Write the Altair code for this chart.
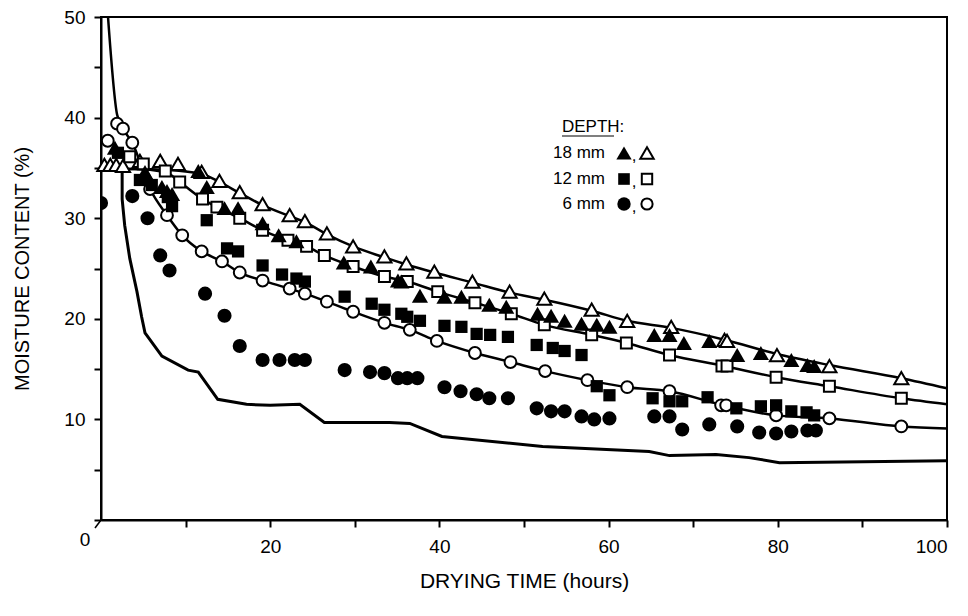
import altair as alt
import pandas as pd

# ---------------- data (hours, moisture %) ----------------
# solid reference curve
base_t = [0, 2.5, 2.5, 2.8, 3.4, 4.25, 4.8, 5.2, 7.2, 10.3, 11.5, 13.8, 17.2, 20.0, 23.5, 26.4, 34.1, 36.5, 40.3, 52.2, 64.8, 67.2, 72.7, 76.6, 80.2, 100]
base_m = [34.8, 34.8, 31.9, 29.3, 26.0, 22.7, 20.2, 18.6, 16.3, 14.9, 14.7, 12.0, 11.5, 11.4, 11.5, 9.7, 9.7, 9.6, 8.3, 7.3, 6.8, 6.4, 6.5, 6.2, 5.7, 5.9]

# fitted curves
fit18_t = [0, 4, 8, 11.9, 14.0, 16.4, 19.1, 22.3, 24.1, 26.7, 29.8, 33.5, 36.1, 39.4, 43.9, 48.3, 52.4, 58.0, 62.2, 67.4, 73.8, 79.9, 86.1, 94.6, 100]
fit18_m = [34.9, 34.9, 34.8, 34.4, 33.6, 32.5, 31.3, 30.2, 29.6, 28.4, 27.2, 26.1, 25.4, 24.6, 23.6, 22.6, 21.9, 20.8, 19.8, 19.1, 17.9, 16.5, 15.4, 14.1, 13.1]
fit12_t = [0, 4, 7.6, 9.3, 12.0, 13.7, 16.4, 19.1, 22.1, 24.3, 26.4, 29.8, 33.5, 36.2, 39.8, 44.2, 48.5, 52.4, 58.0, 62.1, 67.2, 73.7, 79.8, 86.1, 94.6, 100]
fit12_m = [34.9, 34.9, 34.6, 33.6, 31.9, 31.1, 30.0, 28.8, 27.8, 27.2, 26.3, 25.2, 24.2, 23.7, 22.7, 21.6, 20.5, 19.4, 18.4, 17.6, 16.4, 15.3, 14.2, 13.3, 12.1, 11.5]
fit6_t = [0.83, 1.9, 2.6, 3.7, 5.8, 7.8, 9.6, 11.9, 14.3, 16.4, 19.1, 22.3, 24.1, 26.7, 29.8, 33.5, 36.5, 39.7, 44.2, 48.4, 52.5, 57.5, 62.2, 67.2, 73.6, 79.8, 86.1, 94.6, 100]
fit6_m = [50, 40.3, 38.9, 37.5, 32.9, 30.3, 28.3, 26.7, 25.7, 24.6, 23.8, 23.0, 22.5, 21.7, 20.7, 19.6, 18.9, 17.8, 16.6, 15.7, 14.8, 13.9, 13.2, 12.8, 11.4, 10.4, 10.1, 9.3, 9.1]

# open symbols
o18_t = [0.4, 1.1, 1.8, 2.6, 4.6, 7.0, 9.1, 11.9, 14.0, 16.4, 19.1, 22.3, 24.1, 26.7, 29.8, 33.5, 36.1, 39.4, 43.9, 48.3, 52.4, 58.0, 62.2, 67.4, 73.7, 74.0, 79.9, 86.1, 94.6]
o18_m = [35.3, 35.3, 35.3, 35.2, 35.7, 35.7, 35.4, 34.6, 33.7, 32.6, 31.4, 30.3, 29.7, 28.5, 27.2, 26.2, 25.5, 24.7, 23.7, 22.7, 22.0, 20.9, 19.8, 19.2, 17.9, 17.8, 16.4, 15.3, 14.1]
o12_t = [3.4, 5.0, 7.6, 9.3, 12.0, 13.7, 16.4, 19.1, 22.1, 24.3, 26.4, 29.8, 33.5, 36.2, 39.8, 44.2, 48.5, 52.4, 58.0, 62.1, 67.2, 73.4, 74.0, 79.8, 86.1, 94.6]
o12_m = [36.1, 35.4, 34.7, 33.6, 31.9, 31.1, 30.0, 28.8, 27.8, 27.2, 26.3, 25.2, 24.2, 23.7, 22.7, 21.6, 20.5, 19.4, 18.4, 17.6, 16.4, 15.3, 15.3, 14.2, 13.3, 12.1]
o6_t = [0.8, 1.9, 2.6, 3.7, 5.8, 7.8, 9.6, 11.9, 14.3, 16.4, 19.1, 22.3, 24.1, 26.7, 29.8, 33.5, 36.5, 39.7, 44.2, 48.4, 52.5, 57.5, 62.2, 67.2, 73.3, 73.9, 79.8, 86.1, 94.6]
o6_m = [37.7, 39.4, 38.9, 37.5, 32.9, 30.3, 28.3, 26.7, 25.7, 24.6, 23.8, 23.0, 22.5, 21.7, 20.7, 19.6, 18.9, 17.8, 16.6, 15.7, 14.8, 13.9, 13.2, 12.8, 11.4, 11.4, 10.4, 10.1, 9.3]

# filled symbols
f18_t = [1.65, 5.2, 5.5, 7.2, 7.8, 8.4, 11.5, 12.5, 14.6, 16.2, 19.1, 21.0, 23.1, 28.7, 31.9, 35.1, 35.5, 37.7, 40.6, 42.6, 45.9, 47.9, 51.6, 53.2, 54.8, 56.8, 58.6, 60.1, 65.4, 67.2, 68.9, 71.9, 75.2, 78.0, 81.6, 83.5, 84.3]
f18_m = [37.0, 34.6, 34.1, 33.1, 32.7, 32.4, 34.7, 33.1, 31.0, 31.0, 29.5, 28.3, 27.7, 25.6, 25.2, 23.8, 23.7, 22.3, 22.2, 22.2, 21.4, 21.2, 20.5, 20.3, 19.8, 19.5, 19.4, 19.2, 18.4, 18.4, 17.6, 17.8, 16.4, 16.6, 15.9, 15.4, 15.3]
f12_t = [2.0, 4.6, 6.0, 7.9, 8.4, 12.5, 14.9, 16.2, 19.1, 21.4, 23.1, 24.1, 28.8, 32.0, 33.5, 35.5, 36.2, 37.7, 40.6, 42.6, 44.4, 46.0, 48.1, 51.5, 53.4, 54.8, 56.8, 58.6, 60.1, 65.2, 67.2, 68.7, 71.7, 75.1, 78.0, 79.8, 81.6, 83.4, 84.3]
f12_m = [36.5, 33.8, 33.3, 32.1, 31.2, 29.8, 27.0, 26.7, 25.3, 24.4, 24.0, 23.7, 22.2, 21.5, 20.9, 20.5, 20.2, 19.8, 19.3, 19.2, 18.5, 18.4, 18.2, 17.4, 17.1, 16.8, 16.4, 13.3, 12.4, 12.1, 11.8, 11.8, 12.2, 11.1, 11.3, 11.4, 10.8, 10.7, 10.4]
f6_t = [0.0, 3.7, 5.5, 7.0, 8.1, 12.3, 14.6, 16.4, 19.1, 21.1, 22.9, 24.1, 28.8, 31.8, 33.5, 35.1, 36.2, 37.4, 40.6, 42.5, 44.4, 45.9, 48.1, 51.5, 53.2, 54.8, 56.8, 58.3, 60.1, 65.4, 67.2, 68.7, 71.9, 75.2, 77.8, 79.8, 81.6, 83.5, 84.5]
f6_m = [31.5, 32.2, 30.0, 26.3, 24.8, 22.5, 20.3, 17.3, 15.9, 15.9, 15.9, 15.9, 14.9, 14.7, 14.6, 14.1, 14.1, 14.1, 13.2, 12.8, 12.5, 12.1, 12.1, 11.1, 10.8, 10.8, 10.3, 10.0, 10.1, 10.3, 10.3, 9.0, 9.5, 9.3, 8.7, 8.6, 8.8, 8.9, 8.9]

# legend
legend_labels = ["18 mm", "12 mm", "6 mm"]
legend_shapes = ["triangle-up", "square", "circle"]

FONT = "Liberation Sans"
X = alt.X("t:Q", scale=alt.Scale(domain=[0, 100], nice=False),
          axis=alt.Axis(values=list(range(10, 101, 10)),
                        labelExpr="datum.value % 20 == 0 ? datum.label : ''",
                        title="DRYING TIME (hours)", titlePadding=14, labelPadding=10,
                        titleFontSize=21))
Y = alt.Y("m:Q", scale=alt.Scale(domain=[0, 50], nice=False),
          axis=alt.Axis(values=list(range(0, 51, 5)),
                        labelExpr="datum.value % 10 == 0 && datum.value > 0 ? datum.label : ''",
                        title="MOISTURE CONTENT (%)", titlePadding=31, labelPadding=9,
                        titleFontSize=20))


def df(t, m):
    return pd.DataFrame({"t": t, "m": m, "i": range(len(t))})


one = pd.DataFrame({"a": [1]})

layers = []
layers.append(alt.Chart(df(base_t, base_m)).mark_line(color="black", strokeWidth=3)
              .encode(x=X, y=Y, order="i:Q"))
for ft, fm in [(fit18_t, fit18_m), (fit12_t, fit12_m), (fit6_t, fit6_m)]:
    layers.append(alt.Chart(df(ft, fm)).mark_line(color="black", strokeWidth=2.5, interpolate="monotone")
                  .encode(x=X, y=Y, order="i:Q"))

SIZES = {"triangle-up": 260, "square": 150, "circle": 200}
OSIZES = {"triangle-up": 200, "square": 120, "circle": 140}
for (tt, mm), shp in zip([(o18_t, o18_m), (o12_t, o12_m), (o6_t, o6_m)], legend_shapes):
    layers.append(alt.Chart(df(tt, mm)).mark_point(shape=shp, filled=True, fill="white", stroke="black",
                                                   strokeWidth=2, size=OSIZES[shp], opacity=1)
                  .encode(x=X, y=Y))
for (tt, mm), shp in zip([(f18_t, f18_m), (f12_t, f12_m), (f6_t, f6_m)], legend_shapes):
    layers.append(alt.Chart(df(tt, mm)).mark_point(shape=shp, filled=True, color="black",
                                                   size=SIZES[shp], opacity=1, clip=True)
                  .encode(x=X, y=Y))

# legend block (pixel positions inside plot area)
for lab, shp, yv in zip(legend_labels, legend_shapes, [136, 162, 187]):
    layers.append(alt.Chart(one).mark_text(text=lab, align="right", baseline="middle", font=FONT,
                                           fontSize=17, color="black")
                  .encode(x=alt.value(504), y=alt.value(yv)))
    layers.append(alt.Chart(one).mark_point(shape=shp, filled=True, color="black",
                                            size=SIZES[shp] * 0.9, opacity=1)
                  .encode(x=alt.value(523), y=alt.value(yv)))
    layers.append(alt.Chart(one).mark_text(text=",", baseline="middle", font=FONT, fontSize=17, color="black")
                  .encode(x=alt.value(533), y=alt.value(yv + 3)))
    layers.append(alt.Chart(one).mark_point(shape=shp, filled=True, fill="white",
                                            stroke="black", strokeWidth=2,
                                            size=OSIZES[shp] * 0.9, opacity=1)
                  .encode(x=alt.value(546), y=alt.value(yv)))
layers.append(alt.Chart(one).mark_text(text="DEPTH:", align="left", baseline="middle", font=FONT,
                                       fontSize=17, color="black")
              .encode(x=alt.value(461), y=alt.value(110)))
layers.append(alt.Chart(one).mark_rule(color="black", strokeWidth=1.2)
              .encode(x=alt.value(461), x2=alt.value(513), y=alt.value(119)))
layers.append(alt.Chart(one).mark_text(text="0", baseline="middle", font=FONT, fontSize=19, color="black")
              .encode(x=alt.value(-16), y=alt.value(523)))
layers.append(alt.Chart(one).mark_rule(color="black", strokeWidth=1.5)
              .encode(x=alt.value(0), y=alt.value(503), x2=alt.value(-6), y2=alt.value(511)))

chart = alt.layer(*layers).properties(
    width=846, height=503,
    autosize=alt.AutoSizeParams(type="none"),
    padding={"left": 101, "top": 17, "right": 21, "bottom": 96},
).configure_view(stroke="black", strokeWidth=2).configure_axis(
    domainColor="black", domainWidth=2, tickColor="black", tickWidth=2, tickSize=7,
    grid=False, labelFont=FONT, labelFontSize=19, labelColor="black",
    titleFont=FONT, titleFontWeight="normal", titleColor="black",
    labelOverlap=False,
)

chart.save("out.html", embed_options={"renderer": "svg", "actions": False})
